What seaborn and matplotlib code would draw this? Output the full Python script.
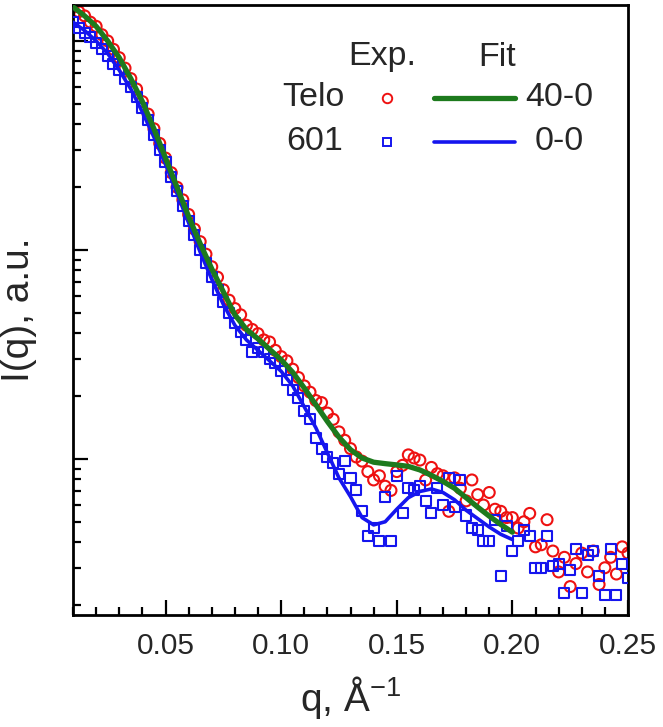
import numpy as np
import pandas as pd
import matplotlib
matplotlib.use("Agg")
import matplotlib.pyplot as plt
import seaborn as sns
from matplotlib.ticker import MultipleLocator, FormatStrFormatter, LogLocator, NullFormatter
from matplotlib.lines import Line2D

# scattering vector for the measured curves (A^-1)
q_exp = [0.0100, 0.0125, 0.0150, 0.0175, 0.0200, 0.0225, 0.0250, 0.0275, 0.0300, 0.0325,
         0.0350, 0.0375, 0.0400, 0.0425, 0.0450, 0.0475, 0.0500, 0.0525, 0.0550, 0.0575,
         0.0600, 0.0625, 0.0650, 0.0675, 0.0700, 0.0725, 0.0750, 0.0775, 0.0800, 0.0825,
         0.0850, 0.0875, 0.0900, 0.0925, 0.0950, 0.0975, 0.1000, 0.1025, 0.1050, 0.1075,
         0.1100, 0.1125, 0.1150, 0.1175, 0.1200, 0.1225, 0.1250, 0.1275, 0.1300, 0.1325,
         0.1350, 0.1375, 0.1400, 0.1425, 0.1450, 0.1475, 0.1500, 0.1525, 0.1550, 0.1575,
         0.1600, 0.1625, 0.1650, 0.1675, 0.1700, 0.1725, 0.1750, 0.1775, 0.1800, 0.1825,
         0.1850, 0.1875, 0.1900, 0.1925, 0.1950, 0.1975, 0.2000, 0.2025, 0.2050, 0.2075,
         0.2100, 0.2125, 0.2150, 0.2175, 0.2200, 0.2225, 0.2250, 0.2275, 0.2300, 0.2325,
         0.2350, 0.2375, 0.2400, 0.2425, 0.2450, 0.2475, 0.2500]

# log10 of intensity
telo_log = [2.16, 2.14, 2.12, 2.09, 2.07, 2.03, 2.00, 1.96, 1.92, 1.87,
            1.82, 1.77, 1.71, 1.65, 1.58, 1.51, 1.44, 1.37, 1.30, 1.24,
            1.17, 1.10, 1.04, 0.98, 0.92, 0.87, 0.81, 0.76, 0.72, 0.69,
            0.64, 0.62, 0.60, 0.57, 0.56, 0.52, 0.49, 0.47, 0.43, 0.39,
            0.35, 0.32, 0.28, 0.27, 0.22, 0.19, 0.13, 0.09, 0.05, 0.01,
            -0.01, -0.06, -0.10, -0.08, -0.13, -0.15, -0.06, -0.03, 0.02, 0.005,
            -0.005, -0.10, -0.04, -0.07, -0.08, -0.25, -0.09, -0.14, -0.20, -0.10,
            -0.17, -0.22, -0.16, -0.24, -0.25, -0.28, -0.28, -0.33, -0.30, -0.26,
            -0.42, -0.41, -0.29, -0.44, -0.54, -0.47, -0.61, -0.50, -0.45, -0.54,
            -0.44, -0.60, -0.52, -0.47, -0.55, -0.42, -0.45]

n601_log = [2.09, 2.06, 2.04, 2.02, 1.99, 1.96, 1.93, 1.89, 1.86, 1.82,
            1.78, 1.73, 1.68, 1.62, 1.55, 1.48, 1.42, 1.35, 1.28, 1.21,
            1.14, 1.07, 1.00, 0.94, 0.87, 0.81, 0.75, 0.70, 0.65, 0.61,
            0.57, 0.51, 0.53, 0.51, 0.48, 0.46, 0.42, 0.38, 0.33, 0.29,
            0.23, 0.19, 0.10, 0.05, 0.01, -0.02, -0.07, -0.01, -0.09, -0.15,
            -0.25, -0.37, -0.33, -0.39, -0.18, -0.39, -0.08, -0.26, -0.14, -0.15,
            -0.13, -0.20, -0.26, -0.14, -0.22, -0.09, -0.23, -0.10, -0.27, -0.33,
            -0.34, -0.39, -0.39, -0.29, -0.56, -0.32, -0.44, -0.39, -0.34, -0.37,
            -0.52, -0.52, -0.37, -0.51, -0.50, -0.64, -0.53, -0.43, -0.64, -0.46,
            -0.44, -0.56, -0.65, -0.43, -0.65, -0.50, -0.57]

# model fits
q_fit = [0.010, 0.015, 0.020, 0.025, 0.030, 0.035, 0.040, 0.045, 0.050, 0.055,
         0.060, 0.065, 0.070, 0.075, 0.080, 0.085, 0.090, 0.095, 0.100, 0.105,
         0.110, 0.115, 0.120, 0.125, 0.130, 0.135, 0.140, 0.145, 0.150, 0.155,
         0.160, 0.165, 0.170, 0.175, 0.180, 0.185, 0.190, 0.195, 0.200]

fit_40_0_log = [2.163, 2.12, 2.07, 2.00, 1.92, 1.82, 1.71, 1.58, 1.44, 1.30,
                1.16, 1.03, 0.91, 0.80, 0.69, 0.62, 0.575, 0.525, 0.475, 0.415,
                0.34, 0.26, 0.18, 0.105, 0.045, 0.005, -0.015, -0.022, -0.028, -0.035,
                -0.052, -0.078, -0.107, -0.140, -0.185, -0.230, -0.273, -0.313, -0.350]

fit_0_0_log = [2.09, 2.05, 2.00, 1.94, 1.86, 1.77, 1.66, 1.54, 1.41, 1.27,
               1.13, 0.99, 0.86, 0.74, 0.64, 0.57, 0.52, 0.47, 0.42, 0.35,
               0.25, 0.15, 0.03, -0.09, -0.18, -0.28, -0.315, -0.30, -0.24, -0.185,
               -0.155, -0.143, -0.160, -0.195, -0.245, -0.285, -0.325, -0.36, -0.385]

red = "#ee1111"
blue = "#1515ee"
green = "#1d7a1d"

sns.set_theme(style="white")
plt.rcParams["font.family"] = ["Liberation Sans", "DejaVu Sans"]
plt.rcParams["mathtext.fontset"] = "custom"
plt.rcParams["mathtext.rm"] = "Liberation Sans"
plt.rcParams["mathtext.it"] = "Liberation Sans:italic"

exp_df = pd.DataFrame({"q": q_exp,
                       "telo": np.power(10.0, telo_log),
                       "n601": np.power(10.0, n601_log)})
fit_df = pd.DataFrame({"q": q_fit,
                       "f40": np.power(10.0, fit_40_0_log),
                       "f00": np.power(10.0, fit_0_0_log)})

W, H = 663, 727
fig = plt.figure(figsize=(W / 100, H / 100), dpi=100)
ax = fig.add_axes([73 / W, 112 / H, 555 / W, 610 / H])

sns.scatterplot(data=exp_df, x="q", y="telo", ax=ax, marker="o", s=62,
                facecolors="none", edgecolor=red, linewidth=1.5, zorder=2)
sns.scatterplot(data=exp_df, x="q", y="n601", ax=ax, marker="s", s=52,
                facecolors="none", edgecolor=blue, linewidth=1.5, zorder=3)
for coll in ax.collections:
    coll.set_facecolor("none")
sns.lineplot(data=fit_df, x="q", y="f00", ax=ax, color=blue, linewidth=2.6, zorder=4)
sns.lineplot(data=fit_df, x="q", y="f40", ax=ax, color=green, linewidth=3.8, zorder=5)

ax.set_yscale("log")
ax.set_xlim(0.01, 0.25)
ax.set_ylim(10 ** -0.746, 10 ** 2.172)

ax.xaxis.set_major_locator(MultipleLocator(0.05))
ax.xaxis.set_minor_locator(MultipleLocator(0.01))
ax.xaxis.set_major_formatter(FormatStrFormatter("%.2f"))
ax.yaxis.set_major_locator(LogLocator(base=10))
ax.yaxis.set_minor_locator(LogLocator(base=10, subs=np.arange(2, 10)))
ax.yaxis.set_major_formatter(NullFormatter())
ax.yaxis.set_minor_formatter(NullFormatter())

ax.tick_params(which="both", direction="in", top=False, right=False,
               bottom=True, left=True, width=1.6, color="black")
ax.tick_params(which="major", length=11)
ax.tick_params(which="minor", length=6)
ax.tick_params(axis="x", labelsize=21.5, pad=12)
for sp in ax.spines.values():
    sp.set_linewidth(2.0)
    sp.set_color("black")

ax.set_xlabel("q, Å$^{\\mathregular{-1}}$", fontsize=28, va="center")
ax.xaxis.set_label_coords(0.5, -0.136)
ax.set_ylabel("I(q), a.u.", fontsize=28, va="center")
ax.yaxis.set_label_coords(-0.097, 0.5)

# legend drawn as a small table
def fx(px):
    return px / W

def fy(py):
    return 1 - py / H

tr = fig.transFigure
fs = 24.5
fig.text(fx(382), fy(57), "Exp.", fontsize=fs, ha="center", va="center")
fig.text(fx(497), fy(57), "Fit", fontsize=fs, ha="center", va="center")
fig.text(fx(345), fy(98), "Telo", fontsize=fs, ha="right", va="center")
fig.text(fx(343), fy(141), "601", fontsize=fs, ha="right", va="center")
fig.add_artist(Line2D([fx(387)], [fy(98)], transform=tr, marker="o", ms=6.8,
                      mfc="none", mec=red, mew=1.4, ls="none"))
fig.add_artist(Line2D([fx(387)], [fy(142)], transform=tr, marker="s", ms=6.3,
                      mfc="none", mec=blue, mew=1.4, ls="none"))
fig.add_artist(Line2D([fx(434), fx(515)], [fy(98), fy(98)], transform=tr,
                      color=green, lw=3.8, solid_capstyle="round"))
fig.add_artist(Line2D([fx(434), fx(515)], [fy(142), fy(142)], transform=tr,
                      color=blue, lw=2.6, solid_capstyle="round"))
fig.text(fx(559), fy(98), "40-0", fontsize=fs, ha="center", va="center")
fig.text(fx(559), fy(142), "0-0", fontsize=fs, ha="center", va="center")

fig.savefig("out.png", dpi=100, facecolor="white")
